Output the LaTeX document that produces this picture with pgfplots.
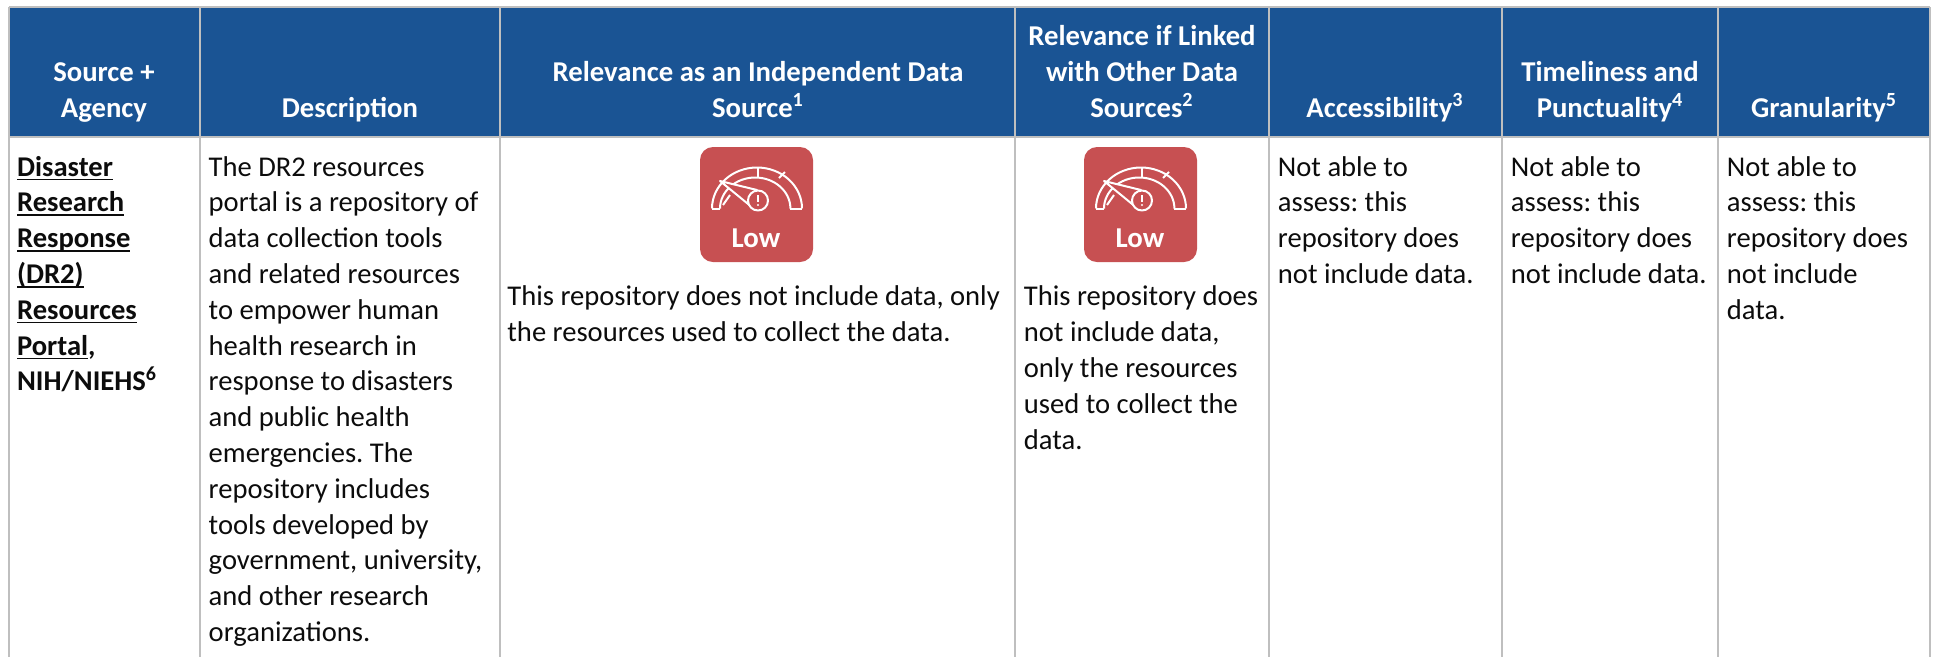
\documentclass[border=0pt]{standalone}
\usepackage{pgfplots}
\pgfplotsset{compat=1.18}
\usepackage{fontspec}
\setmainfont{Carlito}
\frenchspacing
\definecolor{hdr}{HTML}{1A5494}
\definecolor{rule}{HTML}{BFBFBF}
\definecolor{lowred}{HTML}{C75052}
\definecolor{ink}{HTML}{0C0C0C}
\newcommand\ul[1]{\setbox0\hbox{#1}\rlap{\rule[-2.1pt]{\wd0}{0.8pt}}#1}
\newcommand\bodyfont{\fontsize{14.3}{16}\selectfont\color{ink}\frenchspacing}
\newcommand\headfont{\fontsize{14.35}{16}\selectfont\bfseries\color{white}\frenchspacing}
\newcommand\tb[3]{\node[anchor=base west,inner sep=0pt,font=\bodyfont] at (axis cs:#1,#2) {#3};}
\newcommand\hd[3]{\node[anchor=base,inner sep=0pt,font=\headfont] at (axis cs:#1,#2) {#3};}
\newcommand\gauge[1]{%
  \fill[lowred,rounded corners=6.5pt] (axis cs:#1,147) rectangle (axis cs:#1+113,262);
  \begin{scope}[white,line width=1pt,line join=round]
  \draw (axis cs:#1+12,208.5) -- (axis cs:#1+20,208.5);
  \draw (axis cs:#1+90,208.5) -- (axis cs:#1+102,208.5);
  \draw (axis cs:#1+12,208.5) arc[start angle=180,end angle=0,x radius=22.5pt,y radius=20.5pt];
  \draw (axis cs:#1+20,208.5) arc[start angle=180,end angle=0,x radius=17.6pt,y radius=15.5pt];
  \draw (axis cs:#1+58,167.5) -- (axis cs:#1+58,177.5);
  \draw (axis cs:#1+79,178) -- (axis cs:#1+85,172);
  \draw (axis cs:#1+23,205) -- (axis cs:#1+30,195);
  \draw[fill=lowred] (axis cs:#1+20,181) -- (axis cs:#1+57,190) -- (axis cs:#1+53,208) -- cycle;
  \draw[fill=lowred] (axis cs:#1+58,200.5) circle[radius=5pt];
  \draw[line width=1pt] (axis cs:#1+58,195) -- (axis cs:#1+58,202);
  \fill (axis cs:#1+58,205) circle[radius=0.55pt];
  \end{scope}
  \node[anchor=base,inner sep=0pt,white,font=\fontsize{14.4}{16}\selectfont\bfseries] at (axis cs:#1+56,247.2) {Low};
}
\begin{document}
\begin{tikzpicture}
\begin{axis}[
  scale only axis, width=966.5pt, height=328.5pt,
  xmin=0, xmax=1933, ymin=0, ymax=657, y dir=reverse,
  hide axis, clip=false]
% full page extent
\path (axis cs:0,0) rectangle (axis cs:1933,657);
% header band
\addplot[draw=none,fill=hdr] coordinates {(9,7) (1930,7) (1930,137) (9,137)} -- cycle;
% rules
\addplot[rule,line width=0.75pt] coordinates {(9,7) (1930,7)};
\addplot[rule,line width=0.9pt] coordinates {(9,137) (1930,137)};
\addplot[rule,line width=0.75pt] coordinates {(9,7) (9,657)};
\addplot[rule,line width=0.75pt] coordinates {(200,7) (200,657)};
\addplot[rule,line width=0.75pt] coordinates {(500,7) (500,657)};
\addplot[rule,line width=0.75pt] coordinates {(1015,7) (1015,657)};
\addplot[rule,line width=0.75pt] coordinates {(1269,7) (1269,657)};
\addplot[rule,line width=0.75pt] coordinates {(1502,7) (1502,657)};
\addplot[rule,line width=0.75pt] coordinates {(1718,7) (1718,657)};
\addplot[rule,line width=0.75pt] coordinates {(1930,7) (1930,657)};
% header text
\hd{104}{81.7}{Source +}
\hd{104}{117}{Agency}
\hd{350}{117}{Description}
\hd{758}{81.7}{Relevance as an Independent Data}
\hd{758}{117}{Source\textsuperscript{1}}
\hd{1142}{45.7}{Relevance if Linked}
\hd{1142}{81.7}{with Other Data}
\hd{1142}{117}{Sources\textsuperscript{2}}
\hd{1385}{117}{Accessibility\textsuperscript{3}}
\hd{1610}{81.7}{Timeliness and}
\hd{1610}{117}{Punctuality\textsuperscript{4}}
\hd{1824}{117}{Granularity\textsuperscript{5}}
% source column
\tb{16.7}{176}{\bfseries\ul{Disaster}}
\tb{16.7}{211.8}{\bfseries\ul{Research}}
\tb{16.7}{247.6}{\bfseries\ul{Response}}
\tb{16.7}{283.4}{\bfseries\ul{(DR2)}}
\tb{16.7}{319.2}{\bfseries\ul{Resources}}
\tb{16.7}{355}{\bfseries\ul{Portal},}
\tb{16.7}{390.8}{\bfseries NIH/NIEHS\textsuperscript{6}}
% description column
\tb{208.3}{176}{The DR2 resources}
\tb{208.3}{211.8}{portal is a repository of}
\tb{208.3}{247.6}{data collection tools}
\tb{208.3}{283.4}{and related resources}
\tb{208.3}{319.2}{to empower human}
\tb{208.3}{355}{health research in}
\tb{208.3}{390.8}{response to disasters}
\tb{208.3}{426.6}{and public health}
\tb{208.3}{462.4}{emergencies. The}
\tb{208.3}{498.2}{repository includes}
\tb{208.3}{534}{tools developed by}
\tb{208.3}{569.8}{government, university,}
\tb{208.3}{605.6}{and other research}
\tb{208.3}{641.4}{organizations.}
% icons
\gauge{700}
\gauge{1084}
% relevance columns
\tb{507}{305}{This repository does not include data, only}
\tb{507}{341.5}{the resources used to collect the data.}
\tb{1023.5}{305}{This repository does}
\tb{1023.5}{341.5}{not include data,}
\tb{1023.5}{377.5}{only the resources}
\tb{1023.5}{413}{used to collect the}
\tb{1023.5}{449.3}{data.}
% assessment columns
\tb{1277.5}{176}{Not able to}
\tb{1277.5}{211.8}{assess: this}
\tb{1277.5}{247.6}{repository does}
\tb{1277.5}{283.4}{not include data.}
\tb{1510.5}{176}{Not able to}
\tb{1510.5}{211.8}{assess: this}
\tb{1510.5}{247.6}{repository does}
\tb{1510.5}{283.4}{not include data.}
\tb{1726.5}{176}{Not able to}
\tb{1726.5}{211.8}{assess: this}
\tb{1726.5}{247.6}{repository does}
\tb{1726.5}{283.4}{not include}
\tb{1726.5}{319.2}{data.}
\end{axis}
\end{tikzpicture}
\end{document}
